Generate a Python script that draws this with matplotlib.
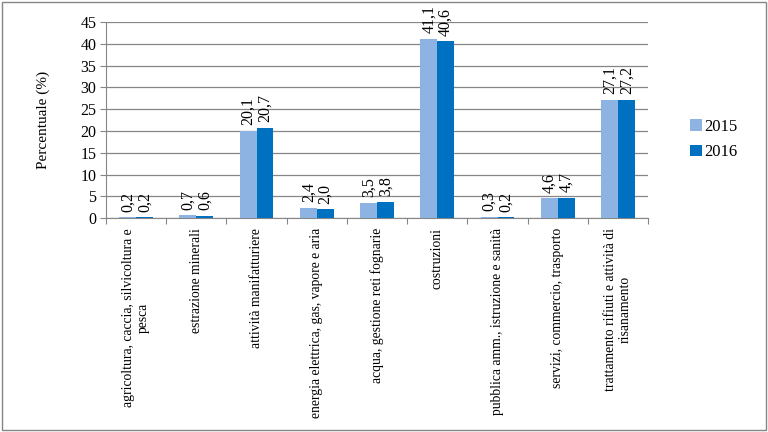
import numpy as np
import matplotlib.pyplot as plt
import matplotlib.ticker as tkr
from matplotlib.patches import Rectangle

plt.rcParams['font.family'] = ['Liberation Serif', 'DejaVu Serif']

categories = [
    "agricoltura, caccia, silvicoltura e\npesca",
    "estrazione minerali",
    "attività manifatturiere",
    "energia elettrica, gas, vapore e aria",
    "acqua, gestione reti fognarie",
    "costruzioni",
    "pubblica amm., istruzione e sanità",
    "servizi, commercio, trasporto",
    "trattamento rifiuti e attività di\nrisanamento",
]
val_2015 = [0.2, 0.7, 20.1, 2.4, 3.5, 41.1, 0.3, 4.6, 27.1]
val_2016 = [0.2, 0.6, 20.7, 2.0, 3.8, 40.6, 0.2, 4.7, 27.2]
years = ["2015", "2016"]
colors = ["#8DB3E2", "#0070C0"]

grey = "#868686"

fig = plt.figure(figsize=(7.68, 4.32), dpi=100)
ax = fig.add_axes([0.138, 0.495, 0.706, 0.454])

x = np.arange(len(categories))
w = 0.28
for vals, off, col, lab in zip([val_2015, val_2016], [-w / 2, w / 2], colors, years):
    bars = ax.bar(x + off, vals, width=w, color=col, label=lab, zorder=3)
    for b, v in zip(bars, vals):
        ax.annotate(f"{v:.1f}".replace(".", ","),
                    (b.get_x() + b.get_width() / 2, b.get_height()),
                    xytext=(0, 4), textcoords="offset points",
                    rotation=90, ha="center", va="bottom", fontsize=11.5)

ax.set_xlim(-0.5, len(categories) - 0.5)
ax.set_ylim(0, 45)
ax.yaxis.set_major_locator(tkr.MultipleLocator(5))
ax.grid(axis="y", color=grey, lw=0.9, zorder=0)
ax.tick_params(axis="y", labelsize=11.5, length=4, color=grey, pad=3)

ax.set_xticks(np.arange(len(categories) + 1) - 0.5)
ax.set_xticklabels([])
ax.tick_params(axis="x", length=4, color=grey)
for i, c in enumerate(categories):
    ax.text(i, -2.3, c, rotation=90, ha="center", va="top",
            multialignment="center", fontsize=9.8)

for s in ["top", "right"]:
    ax.spines[s].set_visible(False)
for s in ["left", "bottom"]:
    ax.spines[s].set_color(grey)

ax.set_ylabel("Percentuale (%)", fontsize=11, labelpad=22)

ax.legend(loc="center left", bbox_to_anchor=(1.05, 0.40), frameon=False,
          fontsize=12, handlelength=0.7, handleheight=0.7,
          handletextpad=0.15, labelspacing=0.55)

fig.patches.append(Rectangle((0.003, 0.005), 0.994, 0.99, transform=fig.transFigure,
                             fill=False, edgecolor=grey, lw=1))

fig.savefig("out.png", dpi=100)
